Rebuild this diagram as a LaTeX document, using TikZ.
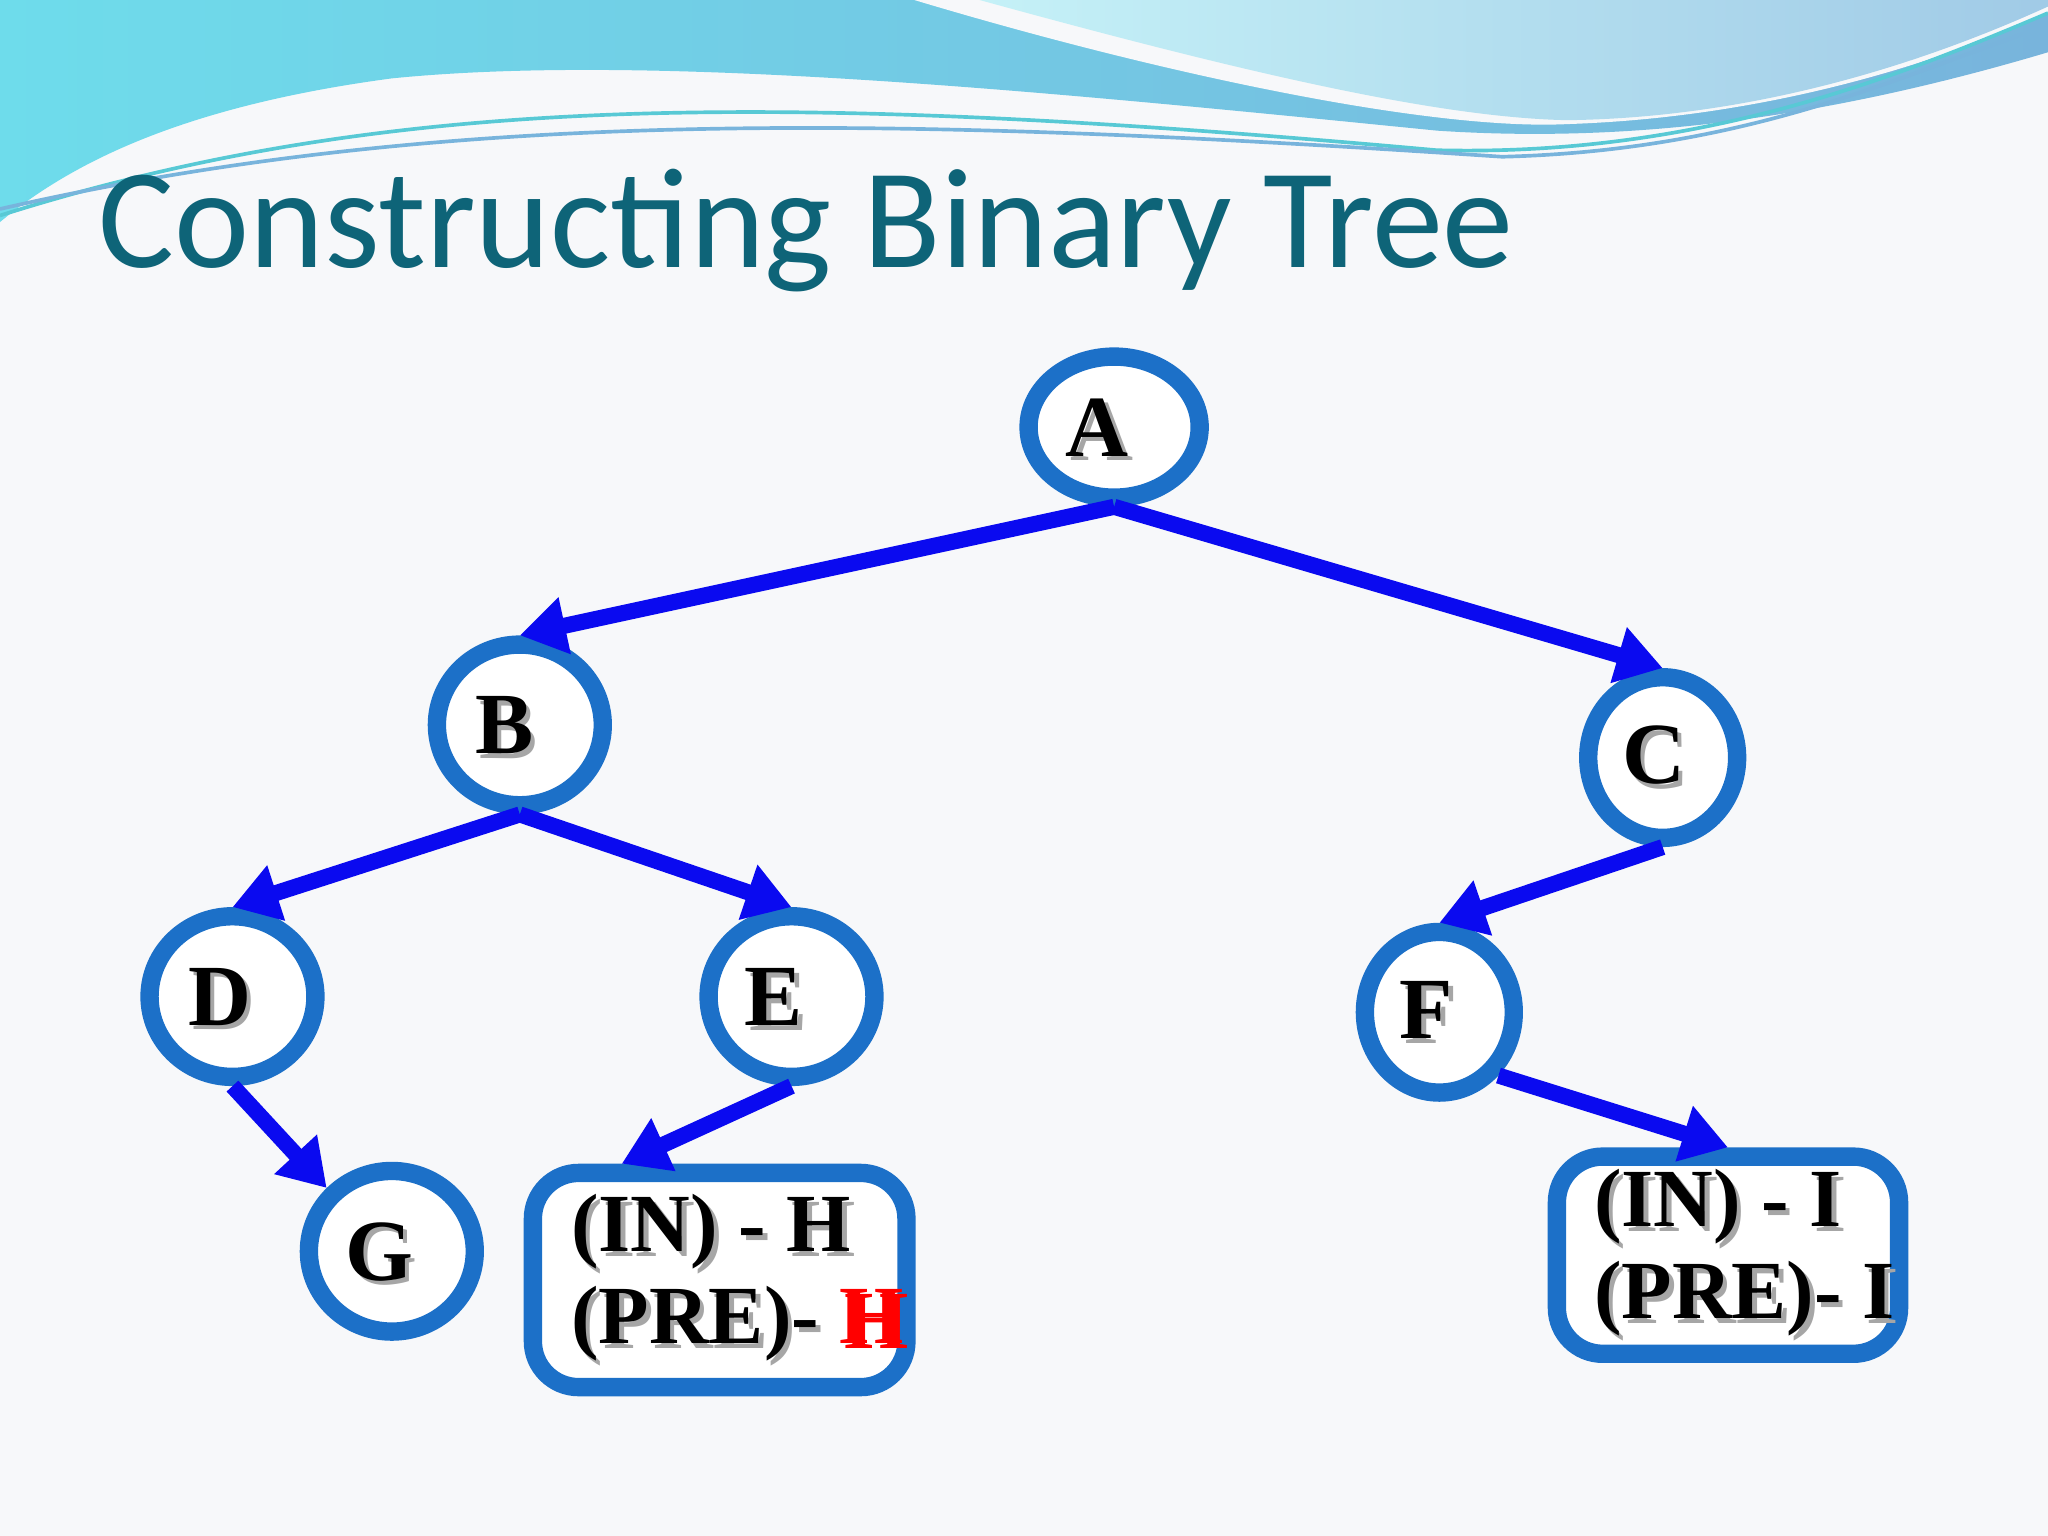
\documentclass[tikz,border=0pt]{standalone}
\usepackage{fontspec}
\setmainfont{Liberation Serif}
\newfontfamily\titlefont{Carlito}
\usetikzlibrary{shapes.geometric,arrows.meta,shadows}
\definecolor{bg}{RGB}{247,248,250}
\definecolor{nodeb}{RGB}{28,112,200}
\definecolor{titlec}{RGB}{14,100,120}
\definecolor{wave1}{RGB}{110,220,235}
\definecolor{wave2}{RGB}{120,180,220}
\tikzset{
  tnode/.style={ellipse,draw=nodeb,line width=4pt,fill=white,inner sep=0pt},
  tbox/.style={draw=nodeb,line width=4pt,rounded corners=3.5mm,fill=white},
  edge/.style={draw={rgb,255:red,10;green,10;blue,240},line width=3.5pt,-{Triangle[length=10pt,width=12pt]}},
  lbl/.style={font=\fontsize{19}{20}\selectfont\bfseries},
}
\newcommand{\shd}[1]{\tikz[baseline=(t.base)]{\node[inner sep=0pt,text=black!35] at (0.35mm,-0.35mm){#1};\node[inner sep=0pt] (t) at (0,0){#1};}}
\begin{document}
\begin{tikzpicture}[x=0.1mm,y=-0.1mm]
\useasboundingbox (0,0) rectangle (1568,1176);
\fill[bg] (0,0) rectangle (1568,1176);
% top waves
\shade[left color=wave1,right color=wave2] (0,0) -- (1568,0) -- (1568,40) .. controls (1400,90) and (1250,110) .. (1100,100) .. controls (800,70) and (500,40) .. (300,60) .. controls (150,80) and (60,120) .. (0,170) -- cycle;
\fill[bg] (700,0) .. controls (900,60) and (1100,100) .. (1200,95) .. controls (1350,90) and (1480,50) .. (1568,10) -- (1568,0) -- cycle;
\shade[left color=white!60!wave1,right color=wave2!70] (750,0) .. controls (950,55) and (1100,90) .. (1200,92) .. controls (1350,90) and (1480,45) .. (1568,5) -- (1568,0) -- cycle;
\draw[wave1!80!teal,line width=0.8pt] (0,165) .. controls (300,70) and (600,70) .. (1100,115) .. controls (1300,120) and (1450,60) .. (1568,10);
\draw[wave2,line width=0.8pt] (0,160) .. controls (350,80) and (700,90) .. (1150,120) .. controls (1350,115) and (1470,50) .. (1568,20);
\node[anchor=base west,text=titlec,font=\titlefont\fontsize{31}{34}\selectfont,inner sep=0pt] (title) at (75,205) {Constructing Binary Tree};
% nodes
\node[tnode,minimum width=13.1mm,minimum height=10.8mm] (A) at (853,327) {};
\node[lbl] at (842,329) {\shd{A}};
\node[tnode,minimum width=12.7mm,minimum height=12.3mm] (B) at (398,555) {};
\node[lbl] at (388,557) {\shd{B}};
\node[tnode,minimum width=11.4mm,minimum height=12.3mm] (C) at (1273,580) {};
\node[lbl] at (1268,580) {\shd{C}};
\node[tnode,minimum width=12.7mm,minimum height=12.3mm] (D) at (178,763) {};
\node[lbl] at (170,765) {\shd{D}};
\node[tnode,minimum width=12.7mm,minimum height=12.3mm] (E) at (606,763) {};
\node[lbl] at (594,765) {\shd{E}};
\node[tnode,minimum width=11.4mm,minimum height=12.3mm] (F) at (1102,775) {};
\node[lbl] at (1094,775) {\shd{F}};
\node[tnode,minimum width=12.7mm,minimum height=12.3mm] (G) at (300,958) {};
\node[lbl] at (292,960) {\shd{G}};
\node[tbox,minimum width=28.6mm,minimum height=16.4mm] (H) at (551,980) {};
\node[anchor=west,font=\fontsize{18}{20}\selectfont\bfseries,align=left] at (425,980) {\shd{(IN) - H}\\\shd{(PRE)- \textcolor{red}{H}}};
\node[tbox,minimum width=26.2mm,minimum height=15.1mm] (I) at (1323,961) {};
\node[anchor=west,font=\fontsize{18}{20}\selectfont\bfseries,align=left] at (1208,961) {\shd{(IN) - I}\\\shd{(PRE)- I}};
% edges
\draw[edge] (A.south) -- (B.north);
\draw[edge] (A.south) -- (C.north);
\draw[edge] (B.south) -- (D.north);
\draw[edge] (B.south) -- (E.north);
\draw[edge] (C.south) -- (F.north);
\draw[edge] (D.south) -- (G.north west);
\draw[edge] (E.south) -- ([xshift=7.5mm]H.north west);
\draw[edge] (F.south east) -- (I.north);
\end{tikzpicture}
\end{document}
